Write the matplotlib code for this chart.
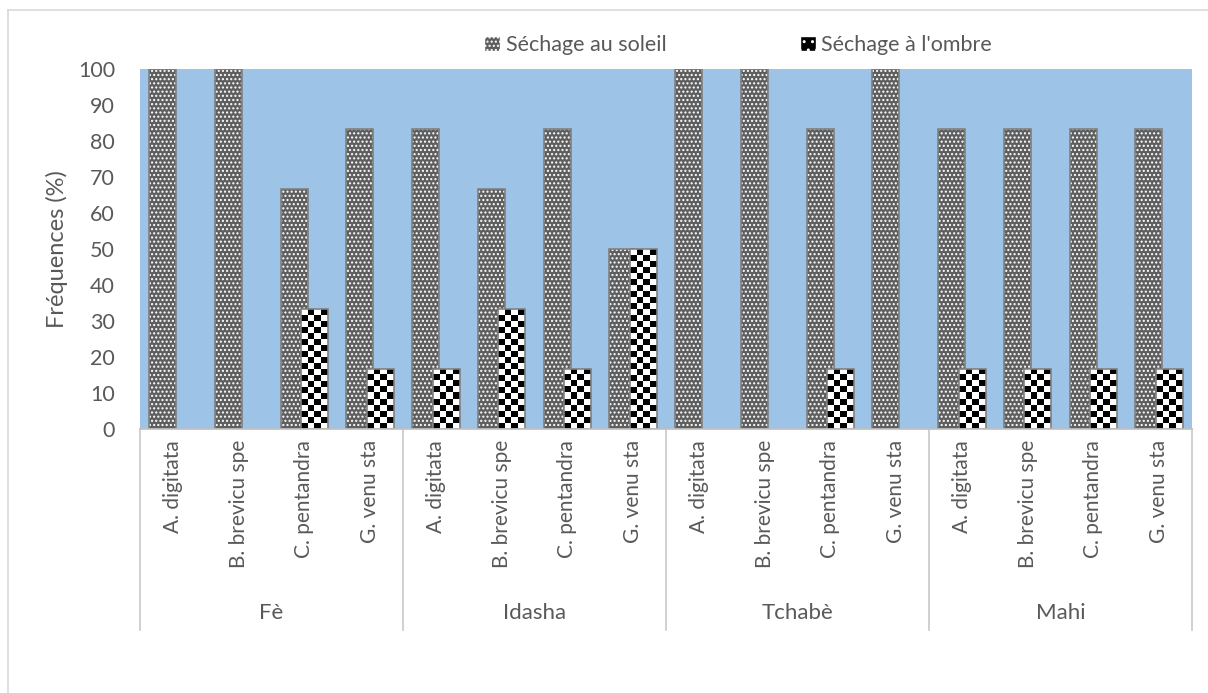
import numpy as np
import matplotlib
matplotlib.use("Agg")
import matplotlib.pyplot as plt
from matplotlib.patches import Patch
from matplotlib.lines import Line2D
import matplotlib.transforms as mtransforms

# Données
regions = ["Fè", "Idasha", "Tchabè", "Mahi"]
especes = ["A. digitata", "B. brevicu spe", "C. pentandra", "G. venu sta"]
soleil = [100, 100, 66.7, 83.3,
          83.3, 66.7, 83.3, 50,
          100, 100, 83.3, 100,
          83.3, 83.3, 83.3, 83.3]
ombre = [0, 0, 33.3, 16.7,
         16.7, 33.3, 16.7, 50,
         0, 0, 16.7, 0,
         16.7, 16.7, 16.7, 16.7]

GRIS = "#595959"
BLEU = "#9DC3E6"
plt.rcParams["font.family"] = ["Lato", "DejaVu Sans"]

fig = plt.figure(figsize=(12.08, 6.93), dpi=100)
W, H = 1208, 693
ax = fig.add_axes([140 / W, 1 - 429 / H, (1192 - 140) / W, (429 - 69) / H])
ax.set_facecolor(BLEU)

n = len(soleil)
x = np.arange(n)
larg = 0.41
dec = 0.155

# barres "soleil" : fond gris tramé de points blancs
ax.bar(x - dec, soleil, larg, color="#5e5e5e", edgecolor="white",
       hatch="....", linewidth=0, zorder=2)
ax.bar(x - dec, soleil, larg, fill=False, edgecolor="#808080",
       linewidth=1.2, zorder=2.1)

# barres "ombre" : damier noir et blanc
barres = ax.bar(x + dec, ombre, larg, color="white", linewidth=0, zorder=3)
case = 1.667
for b in barres:
    h = b.get_height()
    if h <= 0:
        continue
    nl = int(round(h / case))
    damier = (np.add.outer(np.arange(nl), np.arange(4)) % 2).astype(float)
    x0 = b.get_x()
    im = ax.imshow(damier, cmap="gray", extent=(x0, x0 + b.get_width(), 0, h),
                   aspect="auto", interpolation="nearest", origin="lower",
                   zorder=3.5)
    im.set_clip_path(b)
ax.bar(x + dec, [v if v > 0 else np.nan for v in ombre], larg, fill=False,
       edgecolor="#808080", linewidth=1.2, zorder=4)

ax.set_xlim(-0.5, n - 0.5)
ax.set_ylim(0, 100)
ax.set_yticks(range(0, 101, 10))
ax.tick_params(axis="y", length=0, pad=18, labelsize=15.5, labelcolor=GRIS)
ax.set_xticks(x)
ax.set_xticklabels(especes * len(regions), rotation=90, va="top", ha="center")
ax.tick_params(axis="x", length=0, pad=8, labelsize=15, labelcolor=GRIS)
for s in ax.spines.values():
    s.set_visible(False)

ax.set_ylabel("Fréquences (%)", fontsize=17, color=GRIS, labelpad=7)

# axe des catégories groupées
trans = mtransforms.blended_transform_factory(ax.transData, ax.transAxes)
ax.plot([-0.5, n - 0.5], [0, 0], color="#bfbfbf", lw=1.2, transform=trans,
        clip_on=False, zorder=5)
for k in range(len(regions) + 1):
    xs = -0.5 + 4 * k
    ax.plot([xs, xs], [0, -(630 - 429) / 360], color="#c8c8c8", lw=1.2,
            transform=trans, clip_on=False)
for k, r in enumerate(regions):
    ax.text(4 * k + 1.5, -(613 - 429) / 360, r, transform=trans,
            ha="center", va="center", fontsize=16, color=GRIS)

# légende
poignees = [Patch(facecolor="#5e5e5e", edgecolor="white", hatch="...."),
            Patch(facecolor="black", edgecolor="white", hatch="..")]
leg = fig.legend(poignees, ["Séchage au soleil", "Séchage à l'ombre"],
                 loc="center", bbox_to_anchor=(738 / W, 1 - 45 / H), ncol=2,
                 frameon=False, fontsize=15.5, labelcolor=GRIS,
                 handlelength=0.75, handleheight=0.75, handletextpad=0.25,
                 columnspacing=6.2)

# cadre extérieur
fig.add_artist(Line2D([8 / W, 8 / W], [0, 1 - 10 / H], color="#d9d9d9", lw=1.2))
fig.add_artist(Line2D([8 / W, 1], [1 - 10 / H, 1 - 10 / H], color="#d9d9d9", lw=1.2))

fig.savefig("out.png", dpi=100)
